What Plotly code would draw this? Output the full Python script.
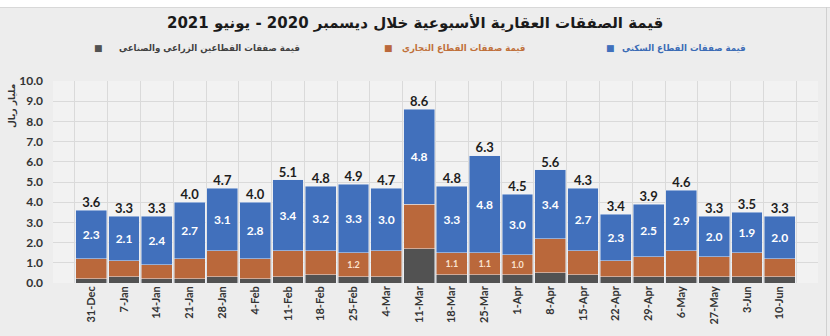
import plotly.graph_objects as go

categories = ["31-Dec", "7-Jan", "14-Jan", "21-Jan", "28-Jan", "4-Feb", "11-Feb", "18-Feb",
              "25-Feb", "4-Mar", "11-Mar", "18-Mar", "25-Mar", "1-Apr", "8-Apr", "15-Apr",
              "22-Apr", "29-Apr", "6-May", "27-May", "3-Jun", "10-Jun"]

# segment heights as drawn (billion riyal)
industrial = [0.2, 0.3, 0.2, 0.2, 0.3, 0.2, 0.3, 0.4, 0.3, 0.3, 1.7, 0.4, 0.4, 0.4, 0.5, 0.4,
              0.3, 0.3, 0.3, 0.3, 0.3, 0.3]
commercial = [1.0, 0.8, 0.7, 1.0, 1.3, 1.0, 1.3, 1.2, 1.2, 1.3, 2.2, 1.1, 1.1, 1.0, 1.7, 1.2,
              0.8, 1.0, 1.3, 1.0, 1.2, 0.9]
residential = [2.4, 2.2, 2.4, 2.8, 3.1, 2.8, 3.5, 3.2, 3.4, 3.1, 4.7, 3.3, 4.8, 3.0, 3.4, 3.1,
               2.3, 2.6, 3.0, 2.0, 2.0, 2.1]

# printed labels
total_labels = [3.6, 3.3, 3.3, 4.0, 4.7, 4.0, 5.1, 4.8, 4.9, 4.7, 8.6, 4.8, 6.3, 4.5, 5.6, 4.3,
                3.4, 3.9, 4.6, 3.3, 3.5, 3.3]
residential_labels = [2.3, 2.1, 2.4, 2.7, 3.1, 2.8, 3.4, 3.2, 3.3, 3.0, 4.8, 3.3, 4.8, 3.0, 3.4,
                      2.7, 2.3, 2.5, 2.9, 2.0, 1.9, 2.0]
commercial_labels = ["", "", "", "", "", "", "", "", "1.2", "", "", "1.1", "1.1", "1.0", "", "",
                     "", "", "", "", "", ""]

title_text = "قيمة الصفقات العقارية الأسبوعية خلال ديسمبر 2020 - يونيو 2021"
name_res = "قيمة صفقات القطاع السكني"
name_com = "قيمة صفقات القطاع التجاري"
name_ind = "قيمة صفقات القطاعين الزراعي والصناعي"
y_title = "مليار ريال"

C_BLUE = "#4170BC"
C_ORANGE = "#BA683B"
C_DARK = "#525252"
NUMF = "Lato"

stack_top = [a + b + c for a, b, c in zip(industrial, commercial, residential)]

fig = go.Figure()
fig.add_bar(x=categories, y=industrial, marker_color=C_DARK, name=name_ind, showlegend=False)
fig.add_bar(x=categories, y=commercial, marker_color=C_ORANGE, name=name_com, showlegend=False,
            text=commercial_labels, textposition="inside", insidetextanchor="middle",
            textangle=0, constraintext="none",
            textfont=dict(family=NUMF, size=9, color="#FBE3CF", weight="bold"))
fig.add_bar(x=categories, y=residential, marker_color=C_BLUE, name=name_res, showlegend=False,
            text=[f"{v:.1f}" for v in residential_labels], textposition="inside",
            insidetextanchor="middle", textangle=0, constraintext="none",
            textfont=dict(family=NUMF, size=12, color="white", weight="bold"))
fig.add_scatter(x=categories, y=stack_top, mode="text", showlegend=False,
                text=[f"{v:.1f}" for v in total_labels], textposition="top center",
                cliponaxis=False,
                textfont=dict(family=NUMF, size=13, color="#1E1E1E", weight="bold"))

W, H = 830, 336
L, R, T, B = 53, 12, 81, 53
pw, ph = W - L - R, H - T - B


def px_x(p):
    return (p - L) / pw


def px_y(p):
    return (H - B - p) / ph


fig.update_layout(
    width=W, height=H,
    margin=dict(l=L, r=R, t=T, b=B),
    barmode="stack", bargap=0.06,
    paper_bgcolor="#EDEDED", plot_bgcolor="#F2F2F2",
    font=dict(family=NUMF, color="#333333"),
    xaxis=dict(type="category", tickson="boundaries", showgrid=True, gridcolor="#DADADA",
               gridwidth=1, ticks="", tickangle=-90,
               tickfont=dict(family=NUMF, size=11, color="#333333", weight="bold"),
               showline=False, zeroline=False),
    yaxis=dict(range=[0, 10], dtick=1, tickformat=".1f", showgrid=True, gridcolor="#DADADA",
               gridwidth=1, ticks="", zeroline=False, ticklabelstandoff=9,
               tickfont=dict(family=NUMF, size=12, color="#333333", weight="bold")),
)

shapes = [
    dict(type="rect", xref="paper", yref="paper", x0=px_x(0), x1=px_x(W), y0=px_y(7), y1=px_y(0),
         fillcolor="white", line_width=0, layer="below"),
    dict(type="line", xref="paper", yref="paper", x0=px_x(0), x1=px_x(W), y0=px_y(7.5), y1=px_y(7.5),
         line=dict(color="#D8D8D8", width=1)),
    dict(type="line", xref="paper", yref="paper", x0=px_x(826.5), x1=px_x(826.5), y0=px_y(7), y1=px_y(H),
         line=dict(color="#D0D0D0", width=1)),
]
fig.update_layout(shapes=shapes)

ann = [
    dict(text=f"<b>{title_text}</b>", x=px_x(415), y=px_y(23), xref="paper", yref="paper",
         showarrow=False, font=dict(family="DejaVu Sans", size=15, color="#1A1A1A"),
         xanchor="center", yanchor="middle"),
    dict(text=f"<b>{y_title}</b>", x=px_x(12), y=px_y(106), xref="paper", yref="paper",
         showarrow=False, textangle=-90, font=dict(family="DejaVu Sans", size=9, color="#333333"),
         xanchor="center", yanchor="middle"),
]
legend_items = [
    (name_ind, C_DARK, "#404040", 92, 302),
    (name_com, C_ORANGE, "#C0703A", 382, 527),
    (name_res, C_BLUE, "#3A6BB5", 604, 748),
]
for txt, mc, tc, mx, tx_right in legend_items:
    ann.append(dict(text="■", x=px_x(mx), y=px_y(48), xref="paper", yref="paper", showarrow=False,
                    font=dict(family="DejaVu Sans", size=9, color=mc), xanchor="left",
                    yanchor="middle"))
    ann.append(dict(text=f"<b>{txt}</b>", x=px_x(tx_right), y=px_y(48), xref="paper",
                    yref="paper", showarrow=False,
                    font=dict(family="DejaVu Sans", size=8.6, color=tc), xanchor="right",
                    yanchor="middle"))
fig.update_layout(annotations=ann)

fig.write_html("out.html")
